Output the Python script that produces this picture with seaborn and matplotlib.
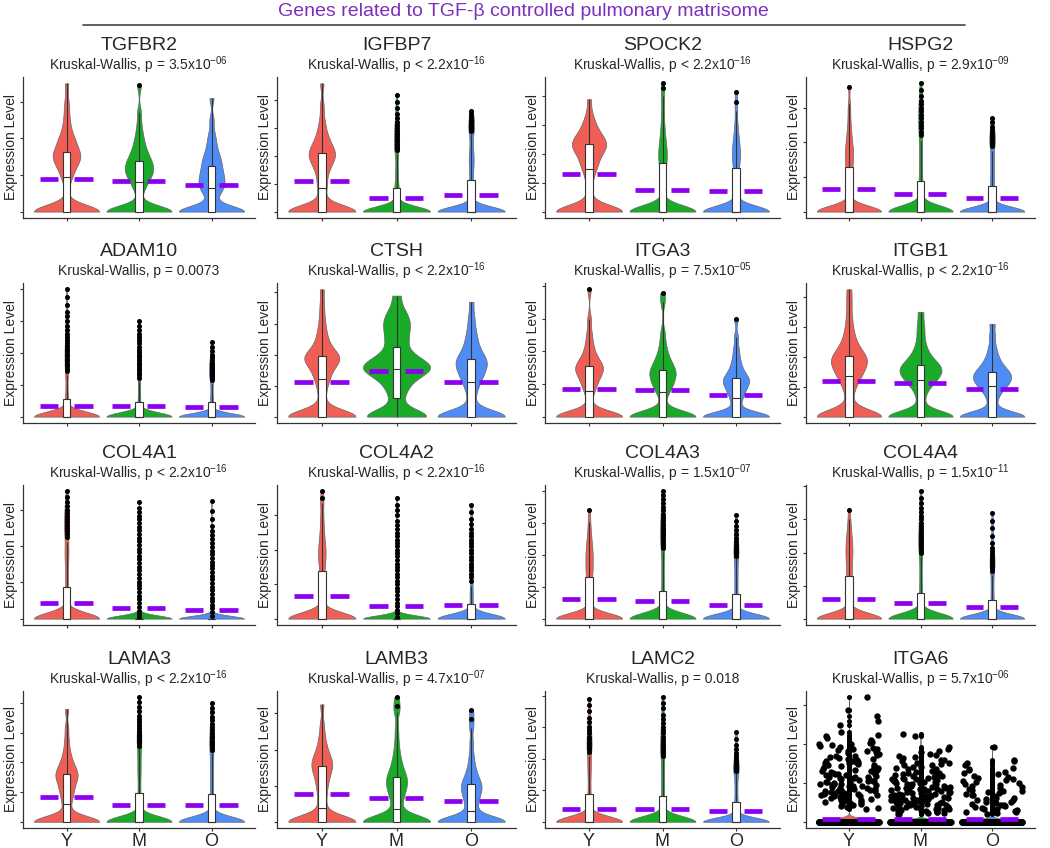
import numpy as np
import pandas as pd
import matplotlib
matplotlib.use("Agg")
import matplotlib.pyplot as plt
from matplotlib.lines import Line2D
import seaborn as sns

sns.set_style("ticks")
plt.rcParams["font.family"] = ["Liberation Sans", "DejaVu Sans"]
plt.rcParams["mathtext.default"] = "regular"

GROUPS = ["Y", "M", "O"]
COLORS = ["#F05F55", "#19AA28", "#508CF5"]
MEAN_COLOR = "#8B00F0"
TITLE_COLOR = "#7B2FBE"

GENES = ["TGFBR2", "IGFBP7", "SPOCK2", "HSPG2",
         "ADAM10", "CTSH", "ITGA3", "ITGB1",
         "COL4A1", "COL4A2", "COL4A3", "COL4A4",
         "LAMA3", "LAMB3", "LAMC2", "ITGA6"]
PVALS = ["p = 3.5x10$^{-06}$", "p < 2.2x10$^{-16}$", "p < 2.2x10$^{-16}$", "p = 2.9x10$^{-09}$",
         "p = 0.0073", "p < 2.2x10$^{-16}$", "p = 7.5x10$^{-05}$", "p < 2.2x10$^{-16}$",
         "p < 2.2x10$^{-16}$", "p < 2.2x10$^{-16}$", "p = 1.5x10$^{-07}$", "p = 1.5x10$^{-11}$",
         "p < 2.2x10$^{-16}$", "p = 4.7x10$^{-07}$", "p = 0.018", "p = 5.7x10$^{-06}$"]

# non-zero expression values per group (Y, M, O), read off the violins/boxes
TGFBR2 = [
    [0.6, 0.9, 1.0, 1.1, 1.2, 1.3, 1.35, 1.4, 1.45, 1.5, 1.55, 1.58, 1.62, 1.7, 1.78, 1.85, 1.92, 2.0, 2.1, 2.25, 2.45, 2.7, 3.0, 3.5],
    [0.5, 0.65, 0.75, 0.85, 0.92, 0.98, 1.03, 1.08, 1.13, 1.18, 1.23, 1.28, 1.33, 1.39, 1.45, 1.52, 1.6, 1.7, 1.8, 1.95, 2.1, 2.35, 2.7, 3.45],
    [0.3, 0.45, 0.55, 0.62, 0.66, 0.72, 0.78, 0.84, 0.9, 0.96, 1.02, 1.08, 1.15, 1.24, 1.3, 1.38, 1.46, 1.55, 1.65, 1.8, 1.95, 2.15, 2.5, 3.1],
]
IGFBP7 = [
    [0.5, 0.8, 0.92, 1.15, 1.35, 1.5, 1.62, 1.72, 1.82, 1.9, 1.97, 2.03, 2.08, 2.15, 2.22, 2.3, 2.4, 2.5, 2.62, 2.8, 3.0, 3.3, 3.8, 4.6],
    [0.3, 0.5, 0.62, 0.72, 0.8, 0.88, 1.0, 1.15, 1.3, 1.48, 1.65, 1.85, 2.05, 2.2, 2.28, 2.36, 2.44, 2.52, 2.6, 2.7, 2.8, 2.9, 3.0, 3.1, 3.2, 3.35, 3.5, 3.7, 3.95, 4.2],
    [0.35, 0.55, 0.7, 0.85, 1.0, 1.1, 1.2, 1.35, 1.5, 1.6, 1.7, 1.8, 1.9, 2.0, 2.1, 2.2, 2.35, 2.5, 2.65, 2.8, 2.9, 2.97, 3.05, 3.12, 3.2, 3.3, 3.4, 3.5, 3.6],
]
SPOCK2 = [
    [0.55, 0.9, 1.2, 1.45, 1.52, 1.65, 1.78, 1.88, 1.98, 2.06, 2.14, 2.2, 2.26, 2.3, 2.34, 2.4, 2.46, 2.52, 2.58, 2.66, 2.75, 2.86, 3.0, 3.15, 3.4, 3.9],
    [0.4, 0.7, 0.95, 1.15, 1.35, 1.5, 1.62, 1.72, 1.82, 1.92, 2.0, 2.1, 2.2, 2.3, 2.42, 2.55, 2.7, 2.9, 3.1, 3.4, 3.7, 4.0, 4.3, 4.45],
    [0.35, 0.65, 0.9, 1.1, 1.3, 1.45, 1.58, 1.7, 1.8, 1.9, 2.0, 2.1, 2.2, 2.3, 2.42, 2.55, 2.7, 2.9, 3.15, 3.5, 3.8, 4.15],
]
HSPG2 = [
    [0.4, 0.65, 0.85, 1.0, 1.12, 1.22, 1.32, 1.42, 1.5, 1.58, 1.66, 1.74, 1.82, 1.9, 2.0, 2.12, 2.25, 2.4, 2.6, 2.85, 3.1, 3.6],
    [0.3, 0.5, 0.65, 0.78, 0.9, 1.02, 1.15, 1.3, 1.45, 1.6, 1.75, 1.9, 2.05, 2.2, 2.3, 2.4, 2.5, 2.6, 2.7, 2.8, 2.9, 3.0, 3.1, 3.2, 3.35, 3.5, 3.7],
    [0.25, 0.42, 0.55, 0.66, 0.76, 0.88, 1.0, 1.12, 1.25, 1.38, 1.5, 1.62, 1.74, 1.88, 1.95, 2.02, 2.1, 2.18, 2.26, 2.35, 2.45, 2.58, 2.7],
]
ADAM10 = [
    [0.25, 0.4, 0.5, 0.6, 0.72, 0.85, 1.0, 1.15, 1.3, 1.42, 1.5, 1.58, 1.66, 1.74, 1.82, 1.9, 1.98, 2.06, 2.14, 2.22, 2.3, 2.4, 2.5, 2.6, 2.72, 2.85, 3.0, 3.15, 3.3, 3.5, 3.75, 4.0],
    [0.2, 0.35, 0.45, 0.55, 0.68, 0.82, 0.95, 1.08, 1.22, 1.3, 1.38, 1.46, 1.54, 1.62, 1.7, 1.78, 1.86, 1.94, 2.02, 2.1, 2.2, 2.3, 2.4, 2.5, 2.6, 2.72, 2.85, 3.0],
    [0.2, 0.33, 0.43, 0.52, 0.64, 0.76, 0.9, 1.04, 1.16, 1.22, 1.28, 1.34, 1.4, 1.46, 1.52, 1.58, 1.64, 1.7, 1.78, 1.86, 1.95, 2.05, 2.2, 2.35],
]
CTSH = [
    [0.3, 0.6, 0.85, 1.05, 1.2, 1.3, 1.42, 1.52, 1.6, 1.68, 1.75, 1.8, 1.85, 1.89, 1.92, 1.95, 2.0, 2.06, 2.14, 2.24, 2.36, 2.5, 2.68, 2.9, 3.2, 3.6, 4.1],
    [0.25, 0.55, 0.78, 0.95, 1.1, 1.2, 1.3, 1.38, 1.45, 1.5, 1.53, 1.56, 1.6, 1.65, 1.7, 1.76, 1.82, 1.9, 1.98, 2.1, 2.3, 2.45, 2.6, 2.75, 2.9, 3.02, 3.15, 3.3, 3.5, 3.9],
    [0.3, 0.6, 0.82, 1.0, 1.12, 1.22, 1.32, 1.4, 1.48, 1.55, 1.62, 1.68, 1.74, 1.8, 1.86, 1.93, 2.0, 2.1, 2.22, 2.36, 2.52, 2.7, 2.95, 3.25, 3.7],
]
ITGA3 = [
    [0.5, 0.75, 0.85, 0.97, 1.07, 1.15, 1.22, 1.29, 1.35, 1.41, 1.46, 1.5, 1.53, 1.58, 1.64, 1.7, 1.78, 1.88, 2.0, 2.15, 2.35, 2.6, 3.0, 3.9],
    [0.45, 0.7, 0.8, 0.88, 0.96, 1.03, 1.1, 1.16, 1.22, 1.28, 1.33, 1.38, 1.42, 1.48, 1.55, 1.62, 1.7, 1.8, 1.92, 2.08, 2.3, 2.6, 3.5, 3.8],
    [0.3, 0.46, 0.57, 0.67, 0.75, 0.82, 0.89, 0.95, 1.01, 1.06, 1.1, 1.14, 1.18, 1.23, 1.3, 1.38, 1.47, 1.58, 1.72, 1.9, 2.12, 2.45, 3.0],
]
ITGB1 = [
    [0.35, 0.7, 0.95, 1.12, 1.25, 1.35, 1.44, 1.52, 1.6, 1.67, 1.74, 1.8, 1.86, 1.92, 1.97, 2.03, 2.1, 2.18, 2.28, 2.4, 2.55, 2.75, 3.0, 3.35, 3.8, 4.25],
    [0.35, 0.65, 0.88, 1.02, 1.12, 1.2, 1.27, 1.33, 1.39, 1.45, 1.5, 1.55, 1.6, 1.65, 1.7, 1.75, 1.82, 1.9, 2.0, 2.12, 2.28, 2.5, 2.8, 3.1, 3.5],
    [0.3, 0.55, 0.72, 0.85, 0.95, 1.02, 1.08, 1.14, 1.2, 1.25, 1.3, 1.35, 1.4, 1.45, 1.5, 1.56, 1.63, 1.72, 1.82, 1.95, 2.12, 2.35, 2.7, 3.1],
]
COL4A1 = [
    [0.3, 0.5, 0.65, 0.78, 0.9, 1.05, 1.2, 1.35, 1.5, 1.6, 1.7, 1.8, 1.9, 2.0, 2.1, 2.25, 2.33, 2.41, 2.49, 2.57, 2.65, 2.73, 2.81, 2.9, 3.0, 3.1, 3.2, 3.35, 3.5],
    [0.04, 0.13, 0.22, 0.33, 0.42, 0.53, 0.63, 0.72, 0.83, 0.93, 1.02, 1.13, 1.22, 1.33, 1.43, 1.52, 1.63, 1.72, 1.83, 1.92, 2.03, 2.13, 2.22, 2.33, 2.43, 2.52, 2.63, 2.73, 2.83, 2.92, 3.03, 3.2],
    [0.07, 0.17, 0.28, 0.37, 0.48, 0.58, 0.67, 0.78, 0.88, 0.97, 1.08, 1.18, 1.27, 1.38, 1.48, 1.57, 1.68, 1.78, 1.87, 1.98, 2.08, 2.18, 2.3, 2.42, 2.56, 2.74, 2.95, 3.23],
]
COL4A2 = [
    [0.35, 0.6, 0.8, 0.98, 1.12, 1.25, 1.38, 1.5, 1.6, 1.7, 1.78, 1.86, 1.94, 2.02, 2.1, 2.2, 2.3, 2.42, 2.56, 2.72, 2.9, 3.1, 3.35, 3.5, 3.7],
    [0.06, 0.16, 0.26, 0.36, 0.46, 0.57, 0.68, 0.79, 0.9, 1.0, 1.1, 1.2, 1.31, 1.4, 1.51, 1.6, 1.7, 1.81, 1.9, 2.0, 2.1, 2.21, 2.3, 2.4, 2.5, 2.61, 2.72, 2.85, 3.0, 3.15, 3.3, 3.5],
    [0.15, 0.25, 0.35, 0.45, 0.55, 0.65, 0.75, 0.85, 0.95, 1.1, 1.2, 1.3, 1.4, 1.5, 1.6, 1.7, 1.8, 1.9, 2.0, 2.1, 2.2, 2.3, 2.4, 2.5, 2.62, 2.75, 2.9, 3.1, 3.3],
]
COL4A3 = [
    [0.35, 0.6, 0.82, 1.0, 1.15, 1.28, 1.4, 1.5, 1.6, 1.7, 1.8, 1.9, 2.0, 2.1, 2.2, 2.32, 2.45, 2.6, 2.8, 3.05, 3.4],
    [0.3, 0.5, 0.65, 0.78, 0.9, 1.05, 1.2, 1.35, 1.5, 1.65, 1.8, 1.95, 2.1, 2.22, 2.3, 2.38, 2.46, 2.54, 2.62, 2.7, 2.78, 2.86, 2.94, 3.02, 3.1, 3.2, 3.3, 3.4, 3.5, 3.62, 3.75, 3.88, 4.0],
    [0.25, 0.45, 0.6, 0.72, 0.82, 0.95, 1.08, 1.2, 1.32, 1.44, 1.56, 1.68, 1.8, 1.9, 1.98, 2.05, 2.12, 2.2, 2.28, 2.36, 2.45, 2.55, 2.65, 2.78, 2.92, 3.08, 3.25],
]
COL4A4 = [
    [0.35, 0.6, 0.8, 0.98, 1.12, 1.25, 1.38, 1.5, 1.62, 1.74, 1.85, 1.95, 2.05, 2.15, 2.25, 2.36, 2.48, 2.62, 2.78, 3.0, 3.3],
    [0.25, 0.45, 0.6, 0.72, 0.82, 0.95, 1.1, 1.25, 1.4, 1.55, 1.7, 1.85, 1.98, 2.06, 2.14, 2.22, 2.3, 2.38, 2.46, 2.54, 2.62, 2.7, 2.8, 2.9, 3.0, 3.1, 3.22, 3.35, 3.5, 3.65, 3.85],
    [0.2, 0.35, 0.48, 0.58, 0.7, 0.82, 0.95, 1.08, 1.2, 1.32, 1.45, 1.52, 1.59, 1.66, 1.73, 1.8, 1.88, 1.96, 2.05, 2.15, 2.3, 2.5, 2.75, 2.95, 3.2],
]
LAMA3 = [
    [0.4, 0.6, 0.75, 0.88, 1.0, 1.1, 1.2, 1.3, 1.38, 1.46, 1.53, 1.58, 1.63, 1.7, 1.78, 1.86, 1.96, 2.08, 2.24, 2.45, 2.75, 3.15, 3.8],
    [0.3, 0.5, 0.66, 0.8, 0.92, 1.05, 1.2, 1.35, 1.5, 1.62, 1.74, 1.86, 1.98, 2.1, 2.22, 2.34, 2.46, 2.56, 2.64, 2.72, 2.8, 2.88, 2.96, 3.05, 3.15, 3.25, 3.35, 3.45, 3.58, 3.72, 3.88, 4.05, 4.2],
    [0.28, 0.48, 0.62, 0.75, 0.87, 1.0, 1.12, 1.24, 1.36, 1.48, 1.6, 1.72, 1.84, 1.96, 2.08, 2.2, 2.32, 2.42, 2.5, 2.58, 2.66, 2.74, 2.82, 2.9, 3.0, 3.1, 3.2, 3.3, 3.42, 3.55, 3.7, 3.85, 4.0],
]
LAMB3 = [
    [0.3, 0.45, 0.62, 0.78, 0.92, 1.05, 1.16, 1.26, 1.35, 1.43, 1.5, 1.56, 1.62, 1.68, 1.75, 1.83, 1.92, 2.04, 2.2, 2.4, 2.7, 3.25],
    [0.28, 0.42, 0.55, 0.66, 0.75, 0.83, 0.9, 0.97, 1.03, 1.09, 1.15, 1.2, 1.26, 1.33, 1.41, 1.5, 1.62, 1.76, 1.94, 2.2, 2.55, 3.05, 3.2, 3.45],
    [0.25, 0.33, 0.44, 0.53, 0.61, 0.68, 0.75, 0.81, 0.87, 0.93, 0.98, 1.02, 1.07, 1.13, 1.2, 1.28, 1.38, 1.5, 1.66, 1.88, 2.2, 2.6, 2.85, 3.1],
]
LAMC2 = [
    [0.3, 0.5, 0.65, 0.78, 0.9, 1.05, 1.2, 1.35, 1.5, 1.62, 1.74, 1.86, 1.98, 2.1, 2.22, 2.3, 2.38, 2.46, 2.54, 2.62, 2.7, 2.8, 2.9, 3.0, 3.15, 3.3, 3.5, 3.7, 3.9],
    [0.28, 0.48, 0.62, 0.74, 0.86, 1.0, 1.14, 1.28, 1.42, 1.56, 1.7, 1.84, 1.98, 2.1, 2.18, 2.26, 2.34, 2.42, 2.5, 2.6, 2.7, 2.8, 2.9, 3.0, 3.12, 3.25, 3.4, 3.6, 3.78, 3.95],
    [0.22, 0.38, 0.5, 0.6, 0.7, 0.82, 0.95, 1.08, 1.2, 1.32, 1.44, 1.54, 1.6, 1.66, 1.72, 1.78, 1.85, 1.92, 2.0, 2.08, 2.18, 2.3, 2.45, 2.62, 2.85],
]
ITGA6 = [
    [3.2, 2.88, 2.48, 2.31, 2.24, 2.2, 2.05, 2.02, 1.97, 1.93, 1.86, 1.83, 1.79, 1.74, 1.7, 1.66, 1.61, 1.57, 1.54, 1.5,
     1.48, 1.45, 1.41, 1.38, 1.36, 1.33, 1.3, 1.27, 1.24, 1.22, 1.19, 1.17, 1.14, 1.12, 1.09, 1.06, 1.04, 1.01, 0.99, 0.97,
     0.94, 0.91, 0.89, 0.86, 0.84, 0.82, 0.79, 0.77, 0.74, 0.72, 0.69, 0.67, 0.64, 0.62, 0.59, 0.56, 0.53, 0.5, 0.47, 0.44,
     0.41, 0.38, 0.36, 0.33, 1.11, 1.02, 0.93, 0.81, 0.71, 0.58, 1.35, 1.26, 0.88, 0.65, 0.45, 1.42, 1.15, 0.96, 0.75, 0.52,
     1.88, 1.62, 1.29, 0.98, 0.68, 0.43, 0.55, 0.61, 0.73, 0.85, 0.92, 1.03, 1.16, 1.21, 1.32, 1.39, 1.47, 1.52, 1.58, 1.64,
     1.72, 1.77, 1.81, 1.9, 1.95, 2.1, 2.15, 0.49, 0.57, 0.63, 0.7, 0.78, 0.87, 0.95, 1.05, 1.13, 1.23, 1.31, 1.44, 1.56,
     1.68, 1.84, 2.0, 2.6, 2.72, 1.99, 1.53, 1.08, 0.8, 0.39],
    [2.25, 2.2, 1.88, 1.82, 1.78, 1.74, 1.7, 1.66, 1.6, 1.55, 1.52, 1.48, 1.45, 1.42, 1.38, 1.35, 1.32, 1.29, 1.26, 1.23,
     1.2, 1.18, 1.15, 1.12, 1.1, 1.07, 1.05, 1.02, 1.0, 0.98, 0.96, 0.93, 0.91, 0.89, 0.87, 0.85, 0.83, 0.81, 0.79, 0.77,
     0.75, 0.73, 0.71, 0.69, 0.67, 0.65, 0.63, 0.61, 0.59, 0.57, 0.55, 0.53, 0.51, 0.49, 0.47, 0.45, 0.43, 0.41, 0.39, 0.37,
     0.35, 0.33, 0.31, 0.29, 0.27, 0.25, 0.23, 0.21, 0.2, 0.86, 0.74, 0.62, 0.52, 0.42, 0.36, 0.28, 0.66, 0.56, 0.46, 0.32,
     0.24, 0.95, 0.78, 0.58, 0.4, 0.3, 1.08, 0.7, 0.5, 0.22, 0.26, 0.34, 0.38, 0.44, 0.48, 0.54, 0.6, 0.64, 0.68, 0.72,
     0.76, 0.8, 0.84, 0.88, 0.92, 0.97, 1.01, 1.04, 1.09, 1.13, 1.17, 1.21, 1.25, 1.3, 1.36, 1.41, 1.47, 1.58, 1.64, 1.72,
     0.3, 0.35, 0.42, 0.5, 0.55, 0.62, 0.7, 0.82, 0.9, 1.0, 1.11, 1.24, 1.5, 1.93],
    [1.93, 1.6, 1.52, 1.45, 1.38, 1.32, 1.27, 1.22, 1.18, 1.13, 1.08, 1.04, 1.0, 0.96, 0.92, 0.88, 0.84, 0.8, 0.76, 0.72,
     0.68, 0.64, 0.6, 0.56, 0.52, 0.48, 0.44, 0.4, 0.36, 0.32, 0.28, 0.24, 0.2, 0.9, 0.7, 0.5, 0.3, 0.62, 0.42, 0.26,
     1.1, 0.78, 0.22, 0.34, 0.46, 0.55, 0.66, 0.74, 0.82, 0.95, 1.02, 1.15, 1.25, 1.35, 0.38, 0.58, 1.56],
]
VALUES = [TGFBR2, IGFBP7, SPOCK2, HSPG2, ADAM10, CTSH, ITGA3, ITGB1,
          COL4A1, COL4A2, COL4A3, COL4A4, LAMA3, LAMB3, LAMC2, ITGA6]

# number of cells with zero expression per group (Y, M, O)
ZEROS = [[20, 18, 16], [20, 68, 62], [18, 43, 41], [40, 63, 51],
         [83, 72, 60], [18, 8, 16], [20, 20, 18], [15, 13, 13],
         [69, 200, 200], [48, 200, 73], [39, 81, 64], [39, 76, 61],
         [20, 78, 78], [20, 22, 22], [69, 72, 59], [400, 420, 190]]

# group means (purple bars)
MEANS = [[0.9, 0.83, 0.73], [1.08, 0.5, 0.59], [1.32, 0.76, 0.7], [0.65, 0.5, 0.4],
         [0.35, 0.32, 0.3], [1.13, 1.48, 1.1], [0.84, 0.82, 0.67], [1.19, 1.11, 0.92],
         [0.44, 0.29, 0.23], [0.65, 0.37, 0.39], [0.61, 0.56, 0.43], [0.6, 0.47, 0.36],
         [0.85, 0.57, 0.58], [0.77, 0.65, 0.57], [0.42, 0.4, 0.35], [0.07, 0.08, 0.07]]

# panel placement in pixels
W, H = 1050, 848
COL_X = [(23, 255), (277, 516), (545, 780), (806, 1035)]
ROW_Y = [(77, 218), (283, 423), (485, 625), (691, 828)]


def panel_frame(vals, zeros):
    rows = []
    for g, v, z in zip(GROUPS, vals, zeros):
        rows += [(g, 0.0)] * z + [(g, x) for x in v]
    return pd.DataFrame(rows, columns=["group", "expr"])


fig = plt.figure(figsize=(W / 100, H / 100), dpi=100)
np.random.seed(7)

for k, gene in enumerate(GENES):
    r, c = divmod(k, 4)
    x0, x1 = COL_X[c]
    y0, y1 = ROW_Y[r]
    ax = fig.add_axes([x0 / W, 1 - y1 / H, (x1 - x0) / W, (y1 - y0) / H])
    df = panel_frame(VALUES[k], ZEROS[k])

    sns.violinplot(data=df, x="group", y="expr", hue="group", order=GROUPS, hue_order=GROUPS,
                   palette=COLORS, legend=False, cut=0, density_norm="width", inner=None,
                   width=0.9, bw_adjust=0.4, linewidth=0.5, linecolor="#666666",
                   saturation=1, ax=ax)
    sns.boxplot(data=df, x="group", y="expr", order=GROUPS, width=0.1, color="white",
                linecolor="#333333", linewidth=0.8, fliersize=2.6, showcaps=False,
                flierprops=dict(marker="o", markerfacecolor="black", markeredgecolor="black"),
                saturation=1, ax=ax)
    if gene == "ITGA6":
        sns.stripplot(data=df, x="group", y="expr", order=GROUPS, color="black", size=4.6,
                      jitter=0.42, ax=ax, zorder=4)

    for i, m in enumerate(MEANS[k]):
        ax.hlines(m, i - 0.37, i - 0.12, color=MEAN_COLOR, lw=3.4, zorder=6)
        ax.hlines(m, i + 0.11, i + 0.36, color=MEAN_COLOR, lw=3.4, zorder=6)

    top = df["expr"].max()
    ax.set_ylim(-0.05 * top, 1.05 * top)
    ax.set_xlim(-0.6, 2.6)
    ax.set_yticks(range(int(1.05 * top) + 1))
    ax.set_yticklabels([])
    ax.set_xticks([0, 1, 2])
    if r == 3:
        ax.set_xticklabels(GROUPS, fontsize=13)
    else:
        ax.set_xticklabels([])
    ax.tick_params(length=2.5, width=0.8, color="#333333", pad=1)
    ax.set_xlabel("")
    ax.set_ylabel("Expression Level", fontsize=10, labelpad=0)
    sns.despine(ax=ax)
    for side in ["left", "bottom"]:
        ax.spines[side].set_color("#333333")
        ax.spines[side].set_linewidth(0.9)

    ax.annotate(gene, xy=(0.5, 1), xycoords="axes fraction", xytext=(0, 31),
                textcoords="offset pixels", ha="center", va="center", fontsize=14)
    ax.annotate("Kruskal-Wallis, " + PVALS[k], xy=(0.5, 1), xycoords="axes fraction",
                xytext=(0, 12), textcoords="offset pixels", ha="center", va="center",
                fontsize=10)

fig.text(523 / W, 1 - 12 / H, "Genes related to TGF-β controlled pulmonary matrisome",
         ha="center", va="center", fontsize=14, color=TITLE_COLOR)
fig.add_artist(Line2D([83 / W, 965 / W], [1 - 25 / H, 1 - 25 / H], transform=fig.transFigure,
                      color="#444444", lw=1.2))

fig.savefig("out.png", dpi=100)
